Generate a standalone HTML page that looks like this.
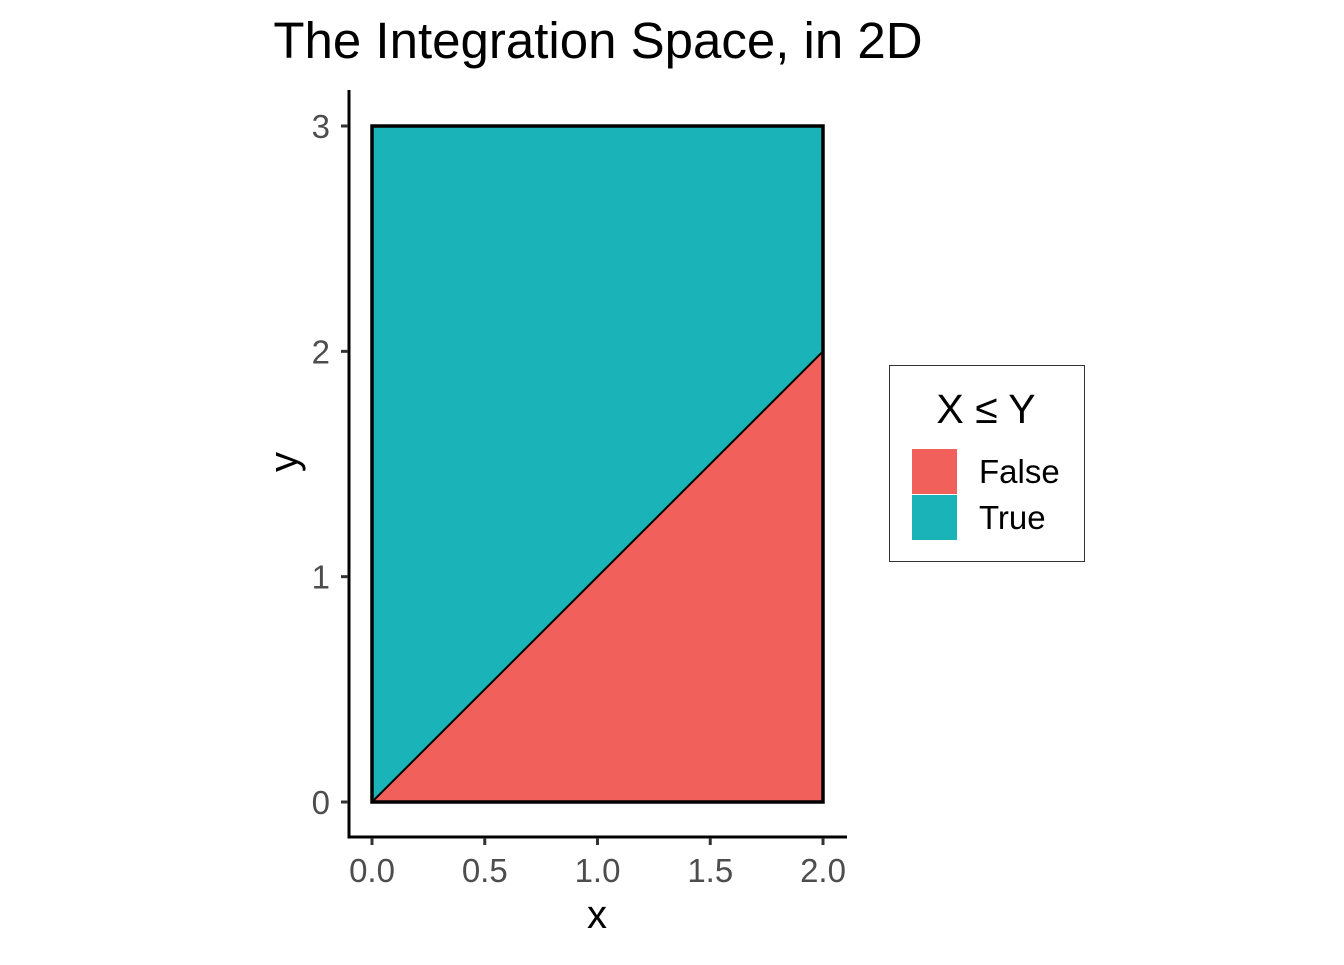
<!DOCTYPE html>
<html><head><meta charset="utf-8"><style>
body{margin:0;background:#fff;}
svg text{font-family:"Liberation Sans",Arial,sans-serif;}
</style></head><body>
<svg width="1344" height="960" viewBox="0 0 1344 960">
<text x="598" y="58" font-size="51" text-anchor="middle" fill="#000">The Integration Space, in 2D</text>
<g id="plot"></g>
<g id="axes"></g>
<text x="597" y="928" font-size="40" text-anchor="middle">x</text>
<text transform="translate(297,462) rotate(-90)" font-size="40" text-anchor="middle">y</text>
<g>
<rect x="889.5" y="365.5" width="195" height="196" fill="#fff" stroke="#333" stroke-width="1"/>
<text x="986" y="423" font-size="41" text-anchor="middle">X ≤ Y</text>
<rect x="912" y="449" width="45" height="45" fill="#F2605C"/>
<rect x="912" y="495" width="45" height="45" fill="#1AB3B8"/>
<text x="979" y="483" font-size="33">False</text>
<text x="979" y="529" font-size="33">True</text>
</g>
</svg>
<script>
const xTicks=[0,0.5,1,1.5,2];
const xTickLabels=["0.0","0.5","1.0","1.5","2.0"];
const yTicks=[0,1,2,3];
const yTickLabels=["0","1","2","3"];
const rectX=[0,2];
const rectY=[0,3];
const diagX=[0,2];
const diagY=[0,2];
const fillColors=["#F2605C","#1AB3B8"];
const sx=v=>372+v*225.5;
const sy=v=>802-v*225.33;
const NS="http://www.w3.org/2000/svg";
function mk(tag,attrs,parent){const e=document.createElementNS(NS,tag);for(const k in attrs)e.setAttribute(k,attrs[k]);parent.appendChild(e);return e;}
const plot=document.getElementById('plot');
const axes=document.getElementById('axes');
let p=mk('polygon',{points:`${sx(rectX[0])},${sy(rectY[0])} ${sx(diagX[1])},${sy(diagY[1])} ${sx(rectX[1])},${sy(rectY[1])} ${sx(rectX[0])},${sy(rectY[1])}`,fill:fillColors[1]},plot);


p=mk('polygon',{points:`${sx(diagX[0])},${sy(diagY[0])} ${sx(rectX[1])},${sy(rectY[0])} ${sx(diagX[1])},${sy(diagY[1])}`,fill:fillColors[0]},plot);


p=mk('line',{x1:sx(diagX[0]),y1:sy(diagY[0]),x2:sx(diagX[1]),y2:sy(diagY[1]),stroke:'#000','stroke-width':2},plot);


p=mk('rect',{x:sx(rectX[0]),y:sy(rectY[1]),width:sx(rectX[1])-sx(rectX[0]),height:sy(rectY[0])-sy(rectY[1]),fill:'none',stroke:'#000','stroke-width':3.5},plot);


p=mk('line',{x1:349,y1:90,x2:349,y2:838,stroke:'#000','stroke-width':3},axes);


p=mk('line',{x1:347.5,y1:837,x2:847,y2:837,stroke:'#000','stroke-width':3},axes);


xTicks.forEach((v,i)=>{
 const t=mk('line',{x1:sx(v),y1:838,x2:sx(v),y2:845,stroke:'#333','stroke-width':3},axes);
 
 
 const l=mk('text',{x:sx(v),y:882,'font-size':33,'text-anchor':'middle',fill:'#4d4d4d'},axes);
 l.textContent=xTickLabels[i];
 
 
});
yTicks.forEach((v,i)=>{
 const t=mk('line',{x1:341,y1:sy(v),x2:348,y2:sy(v),stroke:'#333','stroke-width':3},axes);
 
 
 const l=mk('text',{x:330,y:sy(v)+12,'font-size':33,'text-anchor':'end',fill:'#4d4d4d'},axes);
 l.textContent=yTickLabels[i];
 
 
});
</script>
</body></html>
